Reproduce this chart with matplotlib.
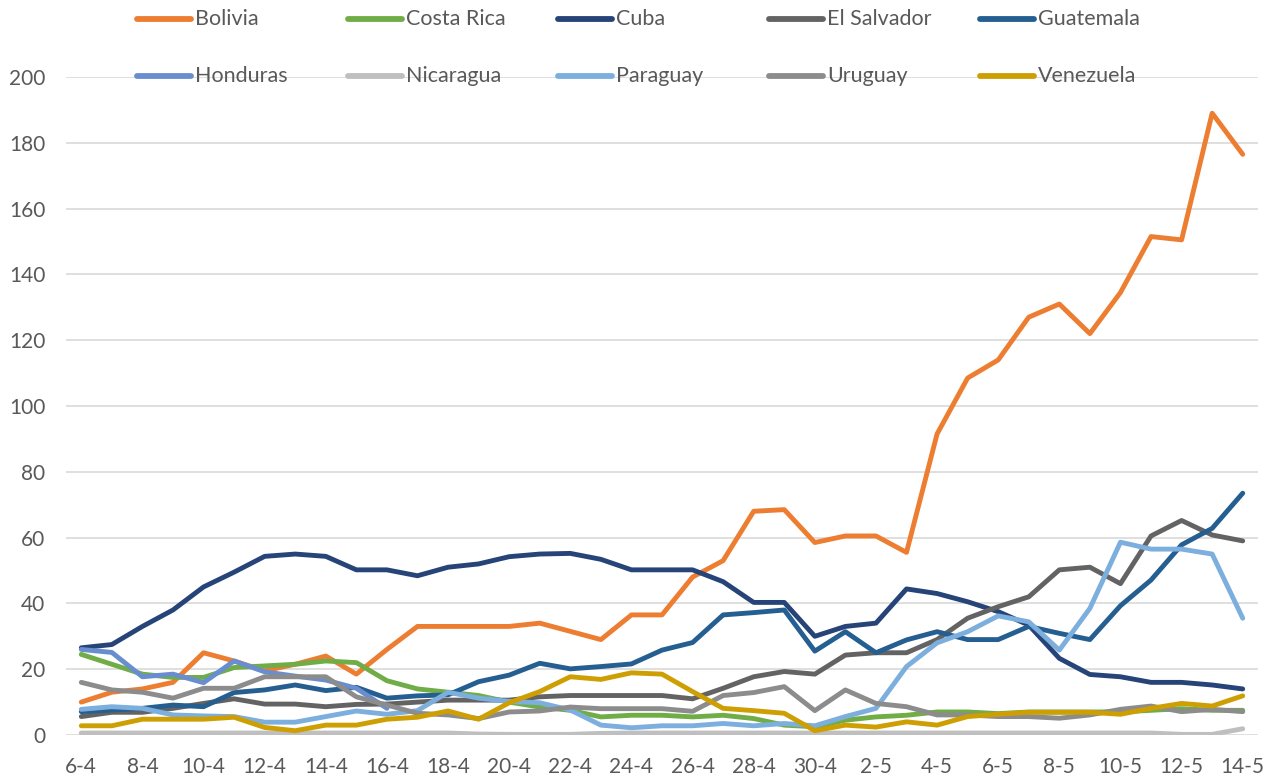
import numpy as np
import matplotlib
matplotlib.use("Agg")
import matplotlib.pyplot as plt
from matplotlib.lines import Line2D

# fechas (6-4 ... 14-5)
dates = ["6-4", "7-4", "8-4", "9-4", "10-4", "11-4", "12-4", "13-4", "14-4", "15-4",
         "16-4", "17-4", "18-4", "19-4", "20-4", "21-4", "22-4", "23-4", "24-4", "25-4",
         "26-4", "27-4", "28-4", "29-4", "30-4", "1-5", "2-5", "3-5", "4-5", "5-5",
         "6-5", "7-5", "8-5", "9-5", "10-5", "11-5", "12-5", "13-5", "14-5"]

countries = ["Bolivia", "Costa Rica", "Cuba", "El Salvador", "Guatemala",
             "Honduras", "Nicaragua", "Paraguay", "Uruguay", "Venezuela"]
colors = ["#ED7D31", "#70AD47", "#264478", "#636363", "#255E91",
          "#698ED0", "#BFBFBF", "#7CAFDD", "#8C8C8C", "#CE9F02"]

bolivia = [10, 13, 14, 16, 25, 22.5, 19.5, 21.5, 24, 18.5, 26, 33, 33, 33, 33, 34, 31.5, 29, 36.5, 36.5,
           48, 53, 68, 68.5, 58.5, 60.5, 60.5, 55.5, 91.5, 108.5, 114, 127, 131, 122, 134.5, 151.5, 150.5, 189, 176.5]
costa_rica = [24.5, 21.5, 18.5, 17.5, 17.5, 20.5, 21, 21.5, 22.5, 22, 16.5, 14, 13, 12, 10, 8.5, 7.5, 5.5, 6, 6,
              5.5, 6, 5, 3, 2.5, 4.5, 5.5, 6, 7, 7, 6.5, 7, 7, 7, 7, 7.5, 8, 7.5, 7.5]
cuba = [26.5, 27.5, 33, 38, 45, 49.5, 54.3, 55, 54.3, 50.2, 50.2, 48.4, 51, 52, 54.2, 55, 55.2, 53.4, 50.2, 50.2,
        50.2, 46.6, 40.3, 40.3, 30, 33, 34, 44.4, 43, 40.5, 37.5, 33.4, 23.3, 18.4, 17.7, 16, 16, 15.2, 14]
el_salvador = [5.6, 6.9, 6.9, 8.1, 9.6, 11, 9.4, 9.4, 8.6, 9.3, 9.4, 10, 10.6, 10.6, 10.6, 11.6, 12, 12, 12, 12,
               11, 14.2, 17.7, 19.3, 18.5, 24.3, 25, 25, 29, 35.5, 39, 42, 50.2, 51, 46, 60.5, 65.2, 60.8, 59]
guatemala = [7.1, 7.6, 8.1, 9.1, 8.6, 12.9, 13.7, 15.2, 13.5, 14.5, 11.2, 11.9, 12.2, 16.2, 18.2, 21.8, 20.1, 20.8, 21.6, 25.8,
             28.1, 36.5, 37.2, 38, 25.5, 31.4, 25, 28.9, 31.4, 29, 29, 33, 30.9, 29, 39.3, 47.1, 57.8, 62.8, 73.5]
honduras = [26, 25.1, 17.7, 18.5, 15.9, 22.5, 19.2, 17.9, 16.7, 14.2, 8.1] + [np.nan] * 28
nicaragua = [0.6, 0.6, 0.6, 0.6, 0.6, 0.6, 0.6, 0.6, 0.6, 0.6, 0.6, 0.6, 0.6, 0.3, 0.2, 0.2, 0.2, 0.5, 0.6, 0.6,
             0.6, 0.6, 0.6, 0.6, 0.6, 0.6, 0.6, 0.6, 0.6, 0.6, 0.6, 0.6, 0.6, 0.6, 0.6, 0.6, 0.2, 0.2, 1.9]
paraguay = [7.8, 8.6, 8.1, 6.1, 5.8, 5.6, 3.9, 3.9, 5.6, 7.3, 6.3, 7.4, 13, 11.2, 10.2, 9.8, 7.6, 3, 2.2, 2.8,
            2.8, 3.5, 2.8, 3.5, 2.8, 5.6, 8.1, 20.8, 28, 31.4, 36.2, 34.4, 25.8, 38.5, 58.6, 56.5, 56.5, 55, 35.5]
uruguay = [16, 13.7, 13, 11.2, 14.2, 14.2, 17.7, 17.7, 17.7, 11.6, 9.1, 6.6, 6.1, 5, 7, 7.3, 8.5, 8, 8, 8,
           7.2, 12, 12.9, 14.7, 7.4, 13.7, 9.6, 8.6, 6.1, 6.1, 5.6, 5.6, 5.1, 6.1, 7.8, 8.8, 7.1, 7.8, 7.1]
venezuela = [2.8, 2.8, 4.8, 4.8, 4.8, 5.4, 2.3, 1.3, 3, 3, 4.8, 5.4, 7.3, 4.8, 9.8, 13.2, 17.7, 16.9, 18.9, 18.5,
             13.2, 8.1, 7.4, 6.6, 1.3, 3, 2.4, 4, 3, 5.6, 6.3, 6.9, 6.9, 6.9, 6.3, 8.1, 9.6, 8.8, 11.9]

series = [bolivia, costa_rica, cuba, el_salvador, guatemala,
          honduras, nicaragua, paraguay, uruguay, venezuela]

yticks = [0, 20, 40, 60, 80, 100, 120, 140, 160, 180, 200]

plt.rcParams['font.family'] = ['Lato', 'DejaVu Sans']
fig = plt.figure(figsize=(12.79, 7.79), dpi=100)
W, H = 1279, 779
ax = fig.add_axes([66 / W, 1 - 735 / H, (1258 - 66) / W, (735 - 77) / H])

x = np.arange(len(dates))
for vals, c in zip(series, colors):
    ax.plot(x, vals, color=c, lw=3.5, solid_capstyle='round', solid_joinstyle='round', zorder=3)

ax.set_xlim(-0.5, len(dates) - 0.5)
ax.set_ylim(0, 200)
ax.set_yticks(yticks)
ax.set_xticks(x[::2])
ax.set_xticklabels(dates[::2])
ax.grid(axis='y', color='#D9D9D9', lw=1.2, zorder=0)
for s in ax.spines.values():
    s.set_visible(False)
ax.tick_params(axis='both', length=0, labelsize=15, labelcolor='#595959')
ax.tick_params(axis='x', pad=16)
ax.tick_params(axis='y', pad=15)

# leyenda (2 filas x 5 columnas, como en Excel)
for i, (name, c) in enumerate(zip(countries, colors)):
    col, row = i % 5, i // 5
    x0 = 137 + 210.7 * col
    y0 = 19 + 57 * row
    fig.add_artist(Line2D([x0 / W, (x0 + 54) / W], [1 - y0 / H, 1 - y0 / H], color=c,
                          lw=4.2, solid_capstyle='round', transform=fig.transFigure))
    fig.text((x0 + 58) / W, 1 - y0 / H, name, fontsize=15.5, color='#595959', va='center', ha='left')

fig.savefig('out.png', dpi=100)
